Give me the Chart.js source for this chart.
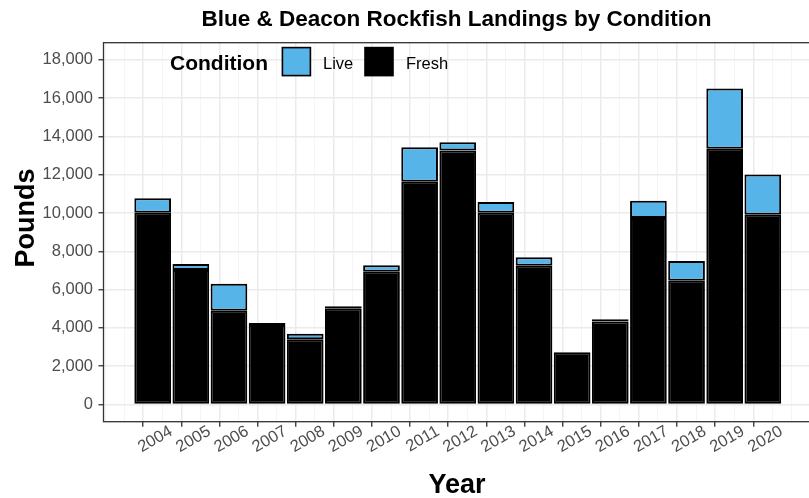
<!DOCTYPE html>
<html><head><meta charset="utf-8">
<script src="https://cdn.jsdelivr.net/npm/chart.js@4.4.1/dist/chart.umd.min.js"></script>
<style>
html,body{margin:0;padding:0;background:#fff;overflow:hidden;}
#wrap{position:relative;width:813px;height:498px;}
</style></head><body>
<div id="wrap"><canvas id="c" width="813" height="498"></canvas></div>
<script>
// ---- data ----
const years = [2004,2005,2006,2007,2008,2009,2010,2011,2012,2013,2014,2015,2016,2017,2018,2019,2020];
const fresh = [10020,7030,4900,4150,3410,5030,6940,11630,13270,10020,7250,2730,4330,9740,6470,13360,9910];
const live  = [750,310,1410,110,280,100,330,1810,430,560,440,0,120,900,1030,3150,2110];
const yTickLabels = [0,2000,4000,6000,8000,10000,12000,14000,16000,18000];
const seriesNames = ['Fresh','Live'];
const seriesColors = ['#000000','#56B4E9'];
const legendOrder = ['Live','Fresh'];
const chartTitle = 'Blue & Deacon Rockfish Landings by Condition';
const legendTitle = 'Condition';
const xTitle = 'Year';
const yTitle = 'Pounds';

const FONT = "'Liberation Sans', Arial, Helvetica, sans-serif";
const tv = ctx => (ctx && ctx.tick) ? ctx.tick.value : NaN;
const isMajorX = v => years.includes(v);
const isMajorY = v => yTickLabels.includes(v);

const overlay = {
  id: 'overlay',
  beforeDraw(chart) {
    const c = chart.ctx;
    c.save(); c.fillStyle = '#fff'; c.fillRect(0,0,chart.width,chart.height); c.restore();
  },
  afterDraw(chart) {
    const c = chart.ctx, a = chart.chartArea;
    c.save();
    c.strokeStyle = '#333333'; c.lineWidth = 1.3;
    c.strokeRect(a.left, a.top, a.right - a.left, a.bottom - a.top);
    c.fillStyle = '#000';
    // chart title
    c.font = `bold 22.5px ${FONT}`;
    c.textAlign = 'center'; c.textBaseline = 'alphabetic';
    c.fillText(chartTitle, 456.5, 26);
    // axis titles
    c.font = `bold 27px ${FONT}`;
    c.fillText(xTitle, 457, 492.7);
    c.save();
    c.translate(33.5, 218);
    c.rotate(-Math.PI / 2);
    c.fillText(yTitle, 0, 0);
    c.restore();
    // legend
    c.textAlign = 'left';
    c.font = `bold 21px ${FONT}`;
    c.fillText(legendTitle, 170, 69.7);
    const boxX = [282.4, 365];
    const txtX = [323, 406];
    legendOrder.forEach((name, i) => {
      const ds = chart.data.datasets.find(d => d.label === name);
      c.fillStyle = ds.backgroundColor;
      c.fillRect(boxX[i], 47.6, 28, 28);
      c.strokeStyle = '#000'; c.lineWidth = 1.6;
      c.strokeRect(boxX[i], 47.6, 28, 28);
      c.fillStyle = '#000';
      c.font = `16.5px ${FONT}`;
      c.fillText(name, txtX[i], 68.7);
    });
    c.restore();
  }
};

const seriesData = [fresh, live];
new Chart(document.getElementById('c'), {
  type: 'bar',
  data: {
    datasets: seriesNames.map((name, k) => ({
      label: name,
      data: years.map((yr, i) => ({x: yr, y: seriesData[k][i]})),
      backgroundColor: seriesColors[k],
      borderColor: '#000000',
      borderWidth: 2,
      borderSkipped: false,
      stack: 's',
      barPercentage: 1.925,
      categoryPercentage: 1.0
    }))
  },
  options: {
    responsive: false,
    animation: false,
    devicePixelRatio: 1,
    layout: {padding: {top: 42.7, left: 0, right: 1, bottom: 0}},
    plugins: {legend: {display: false}, tooltip: {enabled: false}, title: {display: false}},
    scales: {
      x: {
        type: 'linear', stacked: true, min: 2002.71, max: 2021.29, offset: false,
        afterBuildTicks: s => { const t = []; for (let v = 2003; v <= 2021.001; v += 0.5) t.push({value: v}); s.ticks = t; },
        afterFit: s => { s.height = 76.3; },
        border: {display: false},
        grid: {
          color: ctx => isMajorX(tv(ctx)) ? '#EBEBEB' : '#F3F3F3',
          lineWidth: ctx => isMajorX(tv(ctx)) ? 1.5 : 0.8,
          drawTicks: true, tickLength: 5, tickWidth: 1.3,
          tickColor: ctx => isMajorX(tv(ctx)) ? '#333333' : 'rgba(0,0,0,0)'
        },
        ticks: {
          autoSkip: false, minRotation: 30, maxRotation: 30, labelOffset: 18.5, padding: -5,
          color: '#4D4D4D', font: {family: FONT, size: 16.5},
          callback: v => isMajorX(v) ? String(v) : ''
        },
        title: {display: false}
      },
      y: {
        stacked: true, min: -900, max: 18900,
        afterBuildTicks: s => { const t = []; for (let v = 0; v <= 18000; v += 1000) t.push({value: v}); s.ticks = t; },
        afterFit: s => { s.width = 103.5; },
        border: {display: false},
        grid: {
          color: ctx => isMajorY(tv(ctx)) ? '#EBEBEB' : '#F3F3F3',
          lineWidth: ctx => isMajorY(tv(ctx)) ? 1.5 : 0.8,
          drawTicks: true, tickLength: 5, tickWidth: 1.3,
          tickColor: ctx => isMajorY(tv(ctx)) ? '#333333' : 'rgba(0,0,0,0)'
        },
        ticks: {
          padding: 5.5, color: '#4D4D4D', font: {family: FONT, size: 16.5},
          callback: v => isMajorY(v) ? v.toLocaleString('en-US') : ''
        },
        title: {display: false}
      }
    }
  },
  plugins: [overlay]
});
</script>
</body></html>
